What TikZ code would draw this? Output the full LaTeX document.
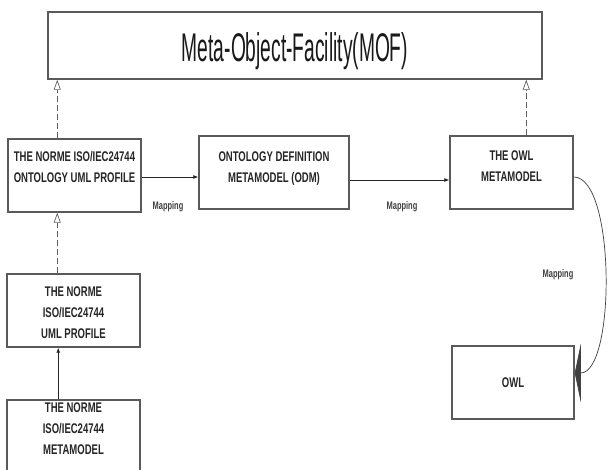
\documentclass[tikz,border=0pt]{standalone}
\usepackage{fontspec}
\setmainfont{Liberation Sans}
\newfontfamily\boxfont[FakeStretch=0.68]{Liberation Sans}
\newfontfamily\moffont[FakeStretch=0.48]{Liberation Sans}
\usetikzlibrary{arrows.meta}
\definecolor{boxgray}{HTML}{5A5A5A}
\definecolor{linegray}{HTML}{606060}
\begin{document}
\begin{tikzpicture}[x=1pt,y=1pt,
  box/.style={draw=boxgray, line width=1.5pt, inner sep=0pt},
  boxtext/.style={font=\boxfont\bfseries\fontsize{14}{21}\selectfont, text=black!85, align=center, inner sep=0pt, anchor=north},
  maplabel/.style={font=\boxfont\bfseries\fontsize{11}{13}\selectfont, text=black!75, inner sep=0pt},
  moftext/.style={font=\moffont\fontsize{40}{44}\selectfont, text=black!90, inner sep=0pt, anchor=base},
  gen/.style={draw=linegray, line width=0.7pt, dash pattern=on 6pt off 3pt, -{Triangle[open, length=10pt, width=7pt]}},
  assoc/.style={draw=black!85, line width=0.7pt, -{Latex[length=5pt, width=4pt]}},
  mapcurve/.style={draw=black!75, line width=0.7pt, -{Triangle[length=6pt, width=58pt]}}
]
\clip (0,0) rectangle (611,-470);
\fill[white] (0,0) rectangle (611,-470);

% boxes
\node[box, minimum width=494pt, minimum height=67pt] (MOF) at (295,-45.5) {};
\node[moftext] (MOFt) at (295,-62) {Meta-Object-Facility(MOF)};

\node[box, minimum width=133pt, minimum height=73pt,
  label={[boxtext, yshift=-13pt]north:{THE NORME ISO/IEC24744\\ONTOLOGY UML PROFILE}}]
  (B1) at (74.5,-175.5) {};
\node[box, minimum width=150pt, minimum height=73pt,
  label={[boxtext, yshift=-16pt]north:{ONTOLOGY DEFINITION\\METAMODEL (ODM)}}]
  (B2) at (274,-172.5) {};
\node[box, minimum width=123pt, minimum height=73pt,
  label={[boxtext, yshift=-15pt]north:{THE OWL\\METAMODEL}}]
  (B3) at (511.5,-172.5) {};
\node[box, minimum width=133pt, minimum height=73pt,
  label={[boxtext, yshift=-13pt]north:{THE NORME\\ISO/IEC24744\\UML PROFILE}}]
  (B4) at (73.5,-310.5) {};
\node[box, minimum width=133pt, minimum height=80pt,
  label={[boxtext, yshift=-3pt]north:{THE NORME\\ISO/IEC24744\\METAMODEL}}]
  (B5) at (73.5,-440) {};
\node[box, minimum width=122pt, minimum height=73pt,
  font=\boxfont\bfseries\fontsize{14}{21}\selectfont, text=black!85]
  (B6) at (513,-382.5) {OWL};

% mapping labels
\node[maplabel] (L1) at (168,-207) {Mapping};
\node[maplabel] (L2) at (402,-207) {Mapping};
\node[maplabel] (L3) at (558,-275) {Mapping};

% generalisations
\coordinate (g1) at ([xshift=50pt]B1.north west);
\draw[gen] (g1) -- (g1 |- MOF.south);
\coordinate (g2) at ([xshift=77pt]B3.north west);
\draw[gen] (g2) -- (g2 |- MOF.south);
\coordinate (g3) at ([xshift=51pt]B4.north west);
\draw[gen] (g3) -- (g3 |- B1.south);

% associations
\coordinate (a1) at ([xshift=52pt]B5.north west);
\draw[assoc] (a1) -- (a1 |- B4.south);
\coordinate (m1) at ([yshift=-1.5pt]B1.east);
\draw[assoc] (m1) -- (m1 -| B2.west);
\coordinate (m2) at ([yshift=-7.5pt]B2.east);
\draw[assoc] (m2) -- (m2 -| B3.west);

% curved mapping
\coordinate (c1) at ([yshift=-4.5pt]B3.east);
\coordinate (c2) at ([yshift=9.5pt]B6.east);
\draw[mapcurve] (c1) .. controls ([xshift=42pt]c1) and ([xshift=41pt]c2) .. (c2);
\end{tikzpicture}
\end{document}
